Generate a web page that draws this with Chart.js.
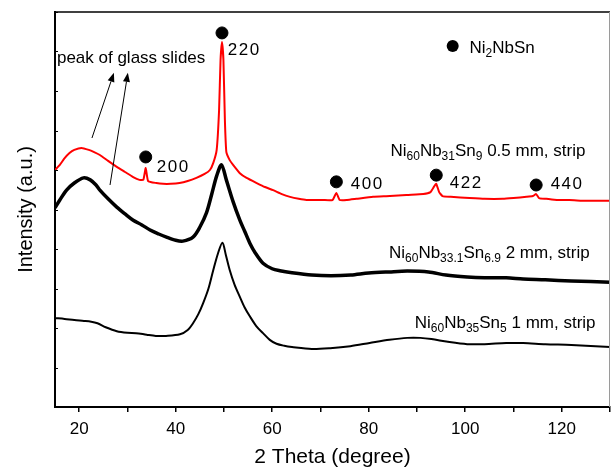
<!DOCTYPE html>
<html><head><meta charset="utf-8">
<script src="https://cdn.jsdelivr.net/npm/chart.js@4.4.0/dist/chart.umd.min.js"></script>
<style>html,body{margin:0;padding:0;background:#fff}</style>
</head><body>
<canvas id="c" width="611" height="467"></canvas>
<script>
// ---- data ----
const redTheta = [15,16,17,18,19,20.5,22,23,24.3,26,27.8,29.5,31.2,32.5,33.3,33.8,34.3,36,37.4,39,40.8,42.5,44.3,46,47.1,47.8,48.5,49.0,49.3,49.6,49.9,50.2,50.5,51.2,51.9,53.3,54.7,56.8,58.5,60.2,62,63.7,65.5,67.1,70.5,72.5,73.3,74,75.5,77.5,80.9,84.4,87.8,91.3,92.8,93.6,94.0,94.6,95.3,97,100.9,104,107.8,110,112.7,114.0,114.7,115.3,116.8,119,121.6,125,130];
const redIntensity = [6.00,6.13,6.30,6.43,6.51,6.56,6.51,6.46,6.38,6.23,6.08,5.95,5.82,5.75,5.75,6.05,5.72,5.67,5.65,5.65,5.67,5.72,5.80,5.90,6.00,6.18,6.51,7.52,8.78,9.24,8.78,7.27,6.46,6.25,6.13,5.92,5.80,5.67,5.57,5.49,5.39,5.32,5.27,5.24,5.24,5.24,5.42,5.24,5.24,5.27,5.32,5.34,5.37,5.39,5.44,5.59,5.65,5.44,5.34,5.32,5.29,5.27,5.27,5.29,5.32,5.34,5.39,5.29,5.27,5.24,5.24,5.22,5.22];

const mid2Theta = [15,16,17.4,19,20.9,22.3,23.5,24.3,26,27.8,29.5,31.2,33,34.7,36.5,38.1,40,41.5,43.6,45,46.4,47.5,48.5,49.5,50.5,51.9,53.3,54.3,55.4,56.5,58.1,60,61.6,64.1,68.2,72.2,76.3,80,84.3,88,92.4,96,100.4,104,108.5,112,116.6,122,130];
const mid2Intensity = [5.04,5.24,5.49,5.67,5.80,5.75,5.62,5.49,5.27,5.06,4.89,4.73,4.61,4.48,4.38,4.30,4.22,4.20,4.30,4.55,4.92,5.40,5.85,6.13,5.75,5.20,4.73,4.45,4.14,3.90,3.64,3.50,3.45,3.40,3.34,3.32,3.34,3.39,3.42,3.44,3.42,3.34,3.29,3.27,3.27,3.24,3.22,3.19,3.16];

const low1Theta = [15,17,19,21,22.5,23.8,25.5,27.8,30,31.8,34,35.9,38,40.9,42.5,43.6,44.7,45.7,46.8,47.8,48.8,49.7,50.4,51.2,52.2,53.3,54.3,55.4,56.7,58.1,59.5,60.9,62.5,64.1,68.2,72,76.2,80.2,84.3,88,90.7,93,96.4,100.4,104,108.5,112,116.6,122,130];
const low1Intensity = [2.25,2.23,2.20,2.18,2.16,2.12,2.02,1.92,1.88,1.87,1.83,1.80,1.80,1.84,1.95,2.12,2.35,2.63,3.00,3.47,3.90,4.16,3.85,3.47,3.10,2.79,2.52,2.29,2.05,1.87,1.70,1.60,1.55,1.52,1.47,1.49,1.54,1.62,1.70,1.75,1.75,1.72,1.65,1.59,1.59,1.62,1.62,1.59,1.57,1.52];

const peakTheta = [33.8,49.6,73.3,94.0,114.7];
const peakMarker = [6.33,9.47,5.70,5.87,5.62];
const peakLabels = ['200','220','400','422','440'];

const xMinorTicks = [20,30,40,50,60,70,80,90,100,110,120,130];
const xTickValues = [20,40,60,80,100,120];

// ---- annotation layout (data coordinates) ----
const peakLabelPos = [[36.1,6.08],[50.8,9.04],[76.3,5.65],[96.8,5.67],[117.7,5.65]];
const legendDot = [97.4,9.14];
const legendTextPos = [100.9,9.11];
const glassTextPos = [15.4,8.84];
const arrows = [[[22.66,6.81],[27.2,8.46]],[[26.4,5.62],[30.1,8.46]]];
const sampleLabels = [
  {parts:[['Ni'],['60',1],['Nb'],['31',1],['Sn'],['9',1],[' 0.5 mm, strip']], pos:[124.9,6.51]},
  {parts:[['Ni'],['60',1],['Nb'],['33.1',1],['Sn'],['6.9',1],[' 2 mm, strip']], pos:[125.8,3.92]},
  {parts:[['Ni'],['60',1],['Nb'],['35',1],['Sn'],['5',1],[' 1 mm, strip']], pos:[127.0,2.15]}
];

const pts = (xs, ys) => xs.map((v,i)=>({x:v,y:ys[i]}));
const FONT = '"Liberation Sans", Arial, sans-serif';

function drawParts(ctx, parts, xRef, yMid, size, subSize, align){
  let w = 0;
  parts.forEach(p=>{ ctx.font = (p[1]?subSize:size)+'px '+FONT; w += ctx.measureText(p[0]).width; });
  let x = align==='right' ? xRef - w : xRef;
  ctx.textBaseline = 'alphabetic'; ctx.textAlign = 'left';
  const base = yMid + size*0.36;
  parts.forEach(p=>{
    ctx.font = (p[1]?subSize:size)+'px '+FONT;
    ctx.fillText(p[0], x, p[1] ? base + 4 : base);
    x += ctx.measureText(p[0]).width;
  });
}

const overlay = {
  id:'overlay',
  afterDraw(chart){
    const {ctx, chartArea:a, scales:{x, y}} = chart;
    ctx.save();
    // top and right frame
    ctx.strokeStyle = '#000'; ctx.lineWidth = 1.5;
    ctx.beginPath(); ctx.moveTo(a.left, a.top); ctx.lineTo(a.right, a.top); ctx.stroke();
    ctx.strokeStyle = '#9a9a9a'; ctx.lineWidth = 1;
    ctx.beginPath(); ctx.moveTo(a.right-0.5, a.top); ctx.lineTo(a.right-0.5, a.bottom); ctx.stroke();
    // inward y ticks
    ctx.strokeStyle = '#000'; ctx.lineWidth = 1;
    y.ticks.forEach(t=>{
      const py = Math.round(y.getPixelForValue(t.value))+0.5;
      ctx.beginPath(); ctx.moveTo(a.left, py); ctx.lineTo(a.left+3, py); ctx.stroke();
    });
    ctx.fillStyle = '#000';
    // peak labels
    ctx.font = '17px '+FONT; ctx.letterSpacing = '1.5px'; ctx.textBaseline = 'middle'; ctx.textAlign = 'left';
    peakLabels.forEach((s,i)=>{
      ctx.fillText(s, x.getPixelForValue(peakLabelPos[i][0]), y.getPixelForValue(peakLabelPos[i][1]));
    });
    ctx.letterSpacing = '0px';
    // legend dot + text
    ctx.beginPath();
    ctx.arc(x.getPixelForValue(legendDot[0]), y.getPixelForValue(legendDot[1]), 6, 0, Math.PI*2);
    ctx.fill();
    drawParts(ctx, [['Ni'],['2',1],['NbSn']], x.getPixelForValue(legendTextPos[0]), y.getPixelForValue(legendTextPos[1]), 17, 12, 'left');
    // glass slides text
    ctx.font = '17px '+FONT; ctx.textBaseline = 'middle'; ctx.textAlign = 'left';
    ctx.fillText('peak of glass slides', x.getPixelForValue(glassTextPos[0]), y.getPixelForValue(glassTextPos[1]));
    // arrows
    ctx.lineWidth = 1; ctx.strokeStyle = '#000';
    arrows.forEach(([p0,p1])=>{
      const x0 = x.getPixelForValue(p0[0]), y0 = y.getPixelForValue(p0[1]);
      const x1 = x.getPixelForValue(p1[0]), y1 = y.getPixelForValue(p1[1]);
      const ang = Math.atan2(y1-y0, x1-x0);
      const L = 9, W = 3.5;
      const bx = x1 - L*Math.cos(ang), by = y1 - L*Math.sin(ang);
      ctx.beginPath(); ctx.moveTo(x0,y0); ctx.lineTo(bx,by); ctx.stroke();
      ctx.beginPath();
      ctx.moveTo(x1,y1);
      ctx.lineTo(bx + W*Math.sin(ang), by - W*Math.cos(ang));
      ctx.lineTo(bx - W*Math.sin(ang), by + W*Math.cos(ang));
      ctx.closePath(); ctx.fill();
    });
    // sample labels
    sampleLabels.forEach(l=>{
      drawParts(ctx, l.parts, x.getPixelForValue(l.pos[0]), y.getPixelForValue(l.pos[1]), 17, 12, 'right');
    });
    ctx.restore();
  }
};

new Chart(document.getElementById('c'), {
  type: 'line',
  data: {
    datasets: [
      {data: pts(low1Theta, low1Intensity), borderColor:'#000', borderWidth:2, pointRadius:0, tension:0.3},
      {data: pts(mid2Theta, mid2Intensity), borderColor:'#000', borderWidth:3.5, pointRadius:0, tension:0.3},
      {data: pts(redTheta, redIntensity), borderColor:'#ff0000', borderWidth:2, pointRadius:0, tension:0.15},
      {type:'scatter', data: pts(peakTheta, peakMarker), backgroundColor:'#000', borderColor:'#000', pointRadius:6, showLine:false}
    ]
  },
  options: {
    responsive:false, animation:false, devicePixelRatio:1,
    layout:{autoPadding:false, padding:{top:12, right:1, left:0, bottom:0}},
    plugins:{legend:{display:false}, tooltip:{enabled:false}},
    scales:{
      x:{
        type:'linear', min:15, max:130,
        afterBuildTicks(s){ s.ticks = xMinorTicks.map(v => ({value:v})); },
        afterFit(s){ s.height = 60; s.paddingLeft = 0; s.paddingRight = 0; },
        ticks:{autoSkip:false, maxRotation:0, padding:7, color:'#000',
          font:{family:FONT, size:17},
          callback:(v)=> xTickValues.includes(v) ? String(v) : ''},
        grid:{display:true, drawOnChartArea:false, drawTicks:true, tickLength:5, color:'#000', lineWidth:1.5},
        border:{display:true, color:'#000', width:2},
        title:{display:true, text:'2 Theta (degree)', color:'#000', padding:0,
          font:{family:FONT, size:21, lineHeight:0.9}}
      },
      y:{
        min:0, max:10,
        afterFit(s){ s.width = 55; },
        ticks:{display:false, stepSize:1},
        grid:{display:false},
        border:{display:true, color:'#000', width:2},
        title:{display:true, text:'Intensity (a.u.)', color:'#000', padding:{top:14, bottom:0},
          font:{family:FONT, size:20, lineHeight:1.2}}
      }
    }
  },
  plugins:[overlay]
});
</script>
</body></html>
